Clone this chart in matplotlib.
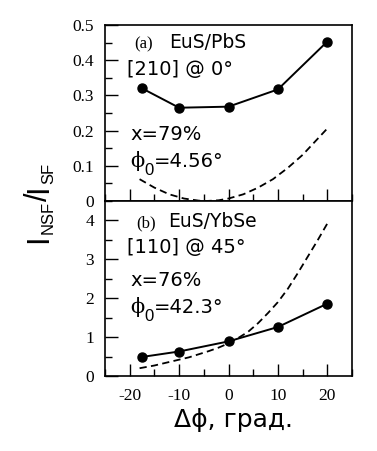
import matplotlib
matplotlib.use("Agg")
import matplotlib.pyplot as plt
from matplotlib.ticker import MultipleLocator
from matplotlib.transforms import IdentityTransform

# Data
dphi = [-17.5, -10, 0, 10, 20]
top_meas = [0.32, 0.265, 0.268, 0.317, 0.453]
bot_meas = [0.49, 0.63, 0.89, 1.26, 1.86]

top_fit_x = [-18, -15, -12, -9, -6, -4.5, -2, 0, 3, 6, 9, 12, 15, 18, 20]
top_fit_y = [0.062, 0.038, 0.019, 0.007, 0.001, 0.0, 0.002, 0.007, 0.019,
             0.038, 0.062, 0.094, 0.131, 0.176, 0.206]
bot_fit_x = [-18, -15, -12, -10, -8, -6, -4, -2, 0, 2, 4, 6, 8, 10, 12, 14, 16, 18, 20]
bot_fit_y = [0.20, 0.27, 0.36, 0.42, 0.48, 0.56, 0.64, 0.73, 0.84, 0.98, 1.14,
             1.36, 1.62, 1.90, 2.24, 2.64, 3.06, 3.48, 3.92]

top_yticks = [0, 0.1, 0.2, 0.3, 0.4, 0.5]
top_ylabels = ["0", "0.1", "0.2", "0.3", "0.4", "0.5"]
bot_yticks = [0, 1, 2, 3, 4]
xticks = [-20, -10, 0, 10, 20]

SERIF = ["Liberation Serif", "DejaVu Serif"]
SANS = ["DejaVu Sans"]
HELV = ["Liberation Sans", "DejaVu Sans"]
PHI = ["DejaVu Serif"]

fig = plt.figure(figsize=(3.77, 4.51), dpi=100)
H = 451.0
L, R = 105 / 377, 352 / 377
y_top, y_mid, y_bot = 1 - 25 / H, 1 - 201 / H, 1 - 376 / H
ax1 = fig.add_axes([L, y_mid, R - L, y_top - y_mid])
ax2 = fig.add_axes([L, y_bot, R - L, y_mid - y_bot])

for ax in (ax1, ax2):
    ax.set_xlim(-25, 25)
    ax.xaxis.set_major_locator(MultipleLocator(10))
    ax.xaxis.set_minor_locator(MultipleLocator(5))
    ax.tick_params(axis="both", which="major", direction="in", length=9, width=1.0,
                   top=False, right=False, pad=8)
    ax.tick_params(axis="both", which="minor", direction="in", length=5, width=1.0,
                   top=False, right=False)
    for s in ax.spines.values():
        s.set_linewidth(1.2)

# top panel
ax1.plot(top_fit_x, top_fit_y, "k--", lw=1.3, dashes=(4, 2.4))
ax1.plot(dphi, top_meas, "k-o", lw=1.4, ms=6.5)
ax1.set_ylim(0, 0.5)
ax1.set_yticks(top_yticks)
ax1.set_yticklabels(top_ylabels, family=SERIF, fontsize=12.5)
ax1.yaxis.set_minor_locator(MultipleLocator(0.05))
ax1.set_xticks(xticks)
ax1.set_xticklabels([])

# bottom panel
ax2.plot(bot_fit_x, bot_fit_y, "k--", lw=1.3, dashes=(4, 2.4))
ax2.plot(dphi, bot_meas, "k-o", lw=1.4, ms=6.5)
ax2.set_ylim(0, 4.5)
ax2.set_yticks(bot_yticks)
ax2.set_yticklabels([str(v) for v in bot_yticks], family=SERIF, fontsize=12.5)
ax2.yaxis.set_minor_locator(MultipleLocator(0.5))
ax2.set_xticks(xticks)
ax2.set_xticklabels([str(v) for v in xticks], family=SERIF, fontsize=12.5)
ax2.tick_params(axis="x", pad=9)

renderer = fig.canvas.get_renderer()


def seq(x0, y0, pieces, rot=False):
    """Draw text pieces one after another starting at display coords (x0, y0).
    pieces: (text, size, family, shift_px) ; shift lowers the baseline."""
    pos = x0 if not rot else y0
    for s, size, fam, shift in pieces:
        if rot:
            t = fig.text(x0 + shift, pos, s, rotation=90, rotation_mode="anchor",
                         ha="left", va="baseline", fontsize=size, family=fam,
                         transform=IdentityTransform())
            pos = t.get_window_extent(renderer).y1
        else:
            t = fig.text(pos, y0 - shift, s, ha="left", va="baseline",
                         fontsize=size, family=fam, transform=IdentityTransform())
            pos = t.get_window_extent(renderer).x1


def atext(ax, x, y, pieces):
    X, Y = ax.transData.transform((x, y))
    seq(X, Y, pieces)


# annotations top
atext(ax1, -19.0, 0.434, [("(a)", 12, SERIF, 0)])
atext(ax1, -12.0, 0.434, [("EuS/PbS", 13.5, SANS, 0)])
atext(ax1, -20.5, 0.358, [("[210] @ 0°", 14, SANS, 0)])
atext(ax1, -19.9, 0.173, [("x=79%", 14, SANS, 0)])
atext(ax1, -19.9, 0.0957, [("ϕ", 15, PHI, 0), ("0", 12, HELV, 8),
                           ("=4.56°", 14, SANS, 0)])

# annotations bottom
atext(ax2, -18.6, 3.82, [("(b)", 12, SERIF, 0)])
atext(ax2, -12.3, 3.82, [("EuS/YbSe", 13.5, SANS, 0)])
atext(ax2, -20.6, 3.15, [("[110] @ 45°", 14, SANS, 0)])
atext(ax2, -19.9, 2.31, [("x=76%", 14, SANS, 0)])
atext(ax2, -19.9, 1.63, [("ϕ", 15, PHI, 0), ("0", 12, HELV, 8),
                         ("=42.3°", 14, SANS, 0)])

# x label
fig.text(234 / 377, (H - 426.7) / H, "Δϕ, град.", family=SANS, fontsize=18,
         ha="center", va="baseline")

# y label  I_NSF / I_SF
seq(47, H - 243, [("I", 22, HELV, 0), ("NSF", 12, HELV, 6), ("/", 22, HELV, 0),
                  ("I", 22, HELV, 0), ("SF", 12, HELV, 6)], rot=True)

fig.savefig("out.png", dpi=100)
